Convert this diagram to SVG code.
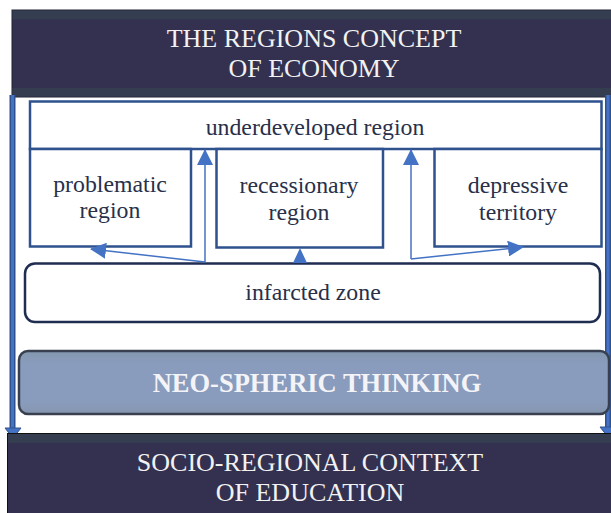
<svg xmlns="http://www.w3.org/2000/svg" width="611" height="513" viewBox="0 0 611 513">
<defs>
<style>
.bannerText{font-family:"Liberation Serif","Times New Roman",serif;font-size:26px;fill:#f2f2f2;text-anchor:middle}
.boxText{font-family:"Liberation Serif","Times New Roman",serif;font-size:23.8px;fill:#28304a;text-anchor:middle}
.box{fill:#ffffff;stroke:#2f528f;stroke-width:2.5}
.conn{stroke:#4472c4;stroke-width:1.5;fill:none}
.head{fill:#4472c4}
</style>
<linearGradient id="neoGrad" x1="0" y1="0" x2="0" y2="1">
<stop offset="0" stop-color="#8497ae"/>
<stop offset="0.2" stop-color="#8a9cbd"/>
<stop offset="0.8" stop-color="#8a9cbd"/>
<stop offset="1" stop-color="#8496ae"/>
</linearGradient>
<marker id="arr" viewBox="0 0 16 16" refX="15" refY="8" markerWidth="16" markerHeight="16" markerUnits="userSpaceOnUse" orient="auto">
<path d="M0,0 L16,8 L0,16 Z" fill="#4472c4"/>
</marker>
</defs>
<rect width="611" height="513" fill="#ffffff"/>

<g id="top-banner">
<rect x="12" y="10" width="600" height="87" fill="#33314f" stroke="#1e2230" stroke-width="1"/>
<rect x="12.5" y="10.5" width="599" height="9" fill="#353e51"/>
<rect x="12.5" y="88" width="599" height="8.5" fill="#353e51"/>
<text class="bannerText" x="314" y="46.5">THE REGIONS CONCEPT</text>
<text class="bannerText" x="314" y="76.5">OF ECONOMY</text>
</g>

<g id="side-arrows">
<line x1="12.5" y1="95" x2="12.5" y2="430" stroke="#2f528f" stroke-width="6"/>
<line x1="12.5" y1="95" x2="12.5" y2="430" stroke="#4472c4" stroke-width="3"/>
<polygon points="5,428 21,428 13,438" fill="#4472c4" stroke="#2f528f" stroke-width="1"/>
<line x1="608" y1="95" x2="608" y2="430" stroke="#2f528f" stroke-width="6"/>
<line x1="608" y1="95" x2="608" y2="430" stroke="#4472c4" stroke-width="3"/>
<polygon points="600,427 616,427 608,437" fill="#4472c4" stroke="#2f528f" stroke-width="1"/>
</g>

<g id="underdeveloped">
<rect class="box" x="30" y="101.5" width="571.5" height="47.5"/>
<text class="boxText" x="315" y="135">underdeveloped region</text>
</g>

<g id="problematic">
<rect class="box" x="30" y="149" width="161" height="97.5"/>
<text class="boxText" x="110" y="192">problematic</text>
<text class="boxText" x="110" y="218">region</text>
</g>

<g id="recessionary">
<rect class="box" x="216.5" y="149" width="166.5" height="98.5"/>
<text class="boxText" x="299" y="193">recessionary</text>
<text class="boxText" x="299" y="220">region</text>
</g>

<g id="depressive">
<rect class="box" x="434.5" y="149" width="167" height="97.5"/>
<text class="boxText" x="518" y="193">depressive</text>
<text class="boxText" x="518" y="220">territory</text>
</g>

<g id="infarcted">
<rect x="25" y="263.5" width="575" height="58.5" rx="10" ry="10" fill="#ffffff" stroke="#1f2d50" stroke-width="2.5"/>
<text class="boxText" x="313" y="300">infarcted zone</text>
</g>

<g id="connectors">
<line class="conn" x1="205" y1="262" x2="205" y2="150" marker-end="url(#arr)"/>
<line class="conn" x1="205" y1="262" x2="91" y2="249" marker-end="url(#arr)"/>
<line class="conn" x1="411" y1="259" x2="411" y2="150" marker-end="url(#arr)"/>
<line class="conn" x1="411" y1="259" x2="523" y2="247" marker-end="url(#arr)"/>
<polygon class="head" points="300,248 293,263 307,263"/>
</g>

<g id="neo-spheric">
<rect x="19" y="351" width="590" height="63" rx="9" ry="9" fill="url(#neoGrad)" stroke="#38404f" stroke-width="2.5"/>
<text x="317" y="392" font-family="'Liberation Serif','Times New Roman',serif" font-size="26.5" font-weight="bold" fill="#f4f4f8" text-anchor="middle">NEO-SPHERIC THINKING</text>
</g>

<g id="bottom-banner">
<rect x="7.5" y="433.5" width="605" height="81" fill="#33314f" stroke="#111" stroke-width="1"/>
<rect x="8" y="434" width="604" height="9" fill="#353e51"/>
<text class="bannerText" x="310" y="471">SOCIO-REGIONAL CONTEXT</text>
<text class="bannerText" x="310" y="501">OF EDUCATION</text>
</g>
</svg>
